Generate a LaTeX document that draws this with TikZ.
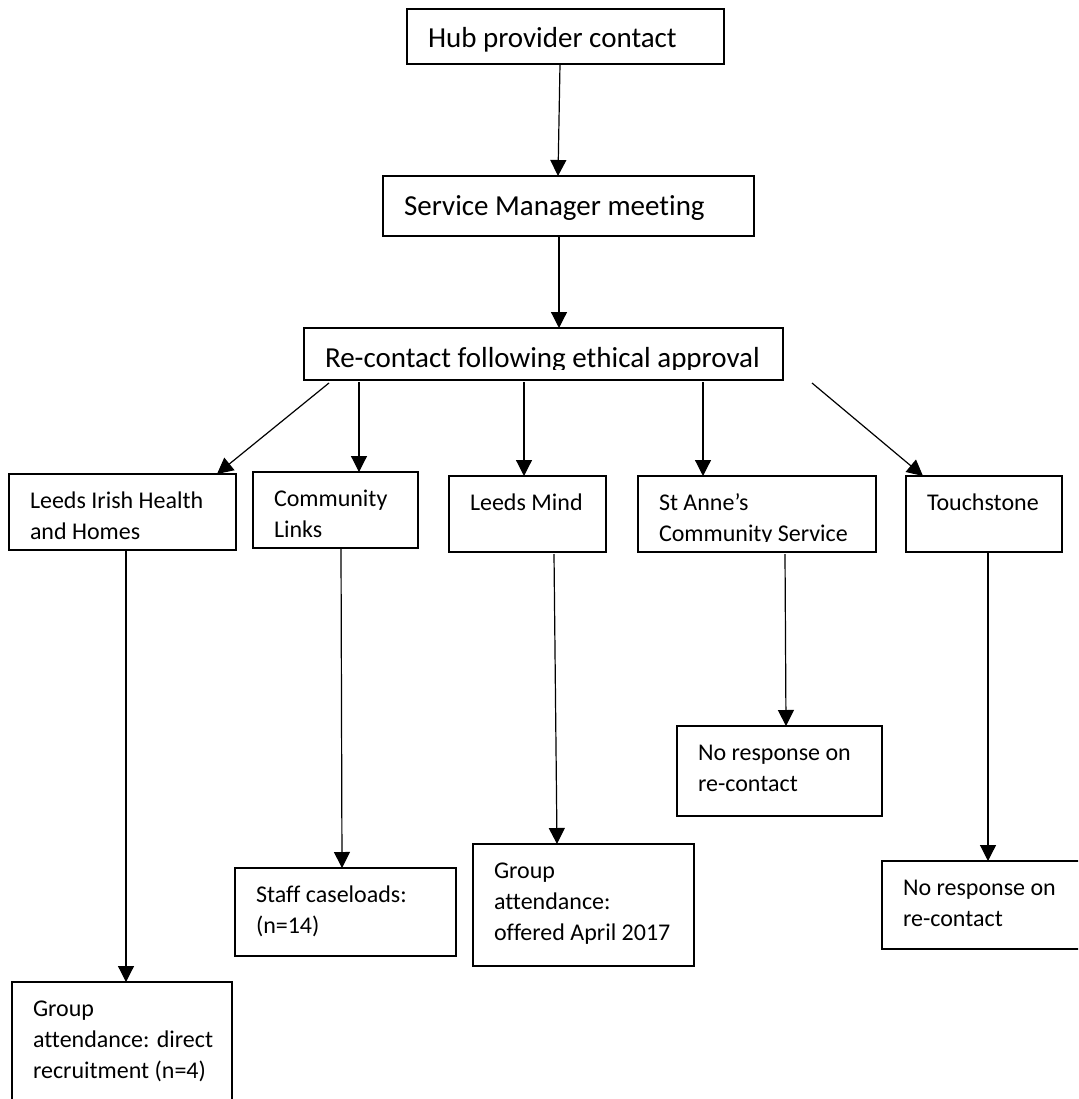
\documentclass[tikz,border=0pt]{standalone}
\usepackage{fontspec}
\setmainfont{Carlito}[Ligatures={NoCommon}]
\usetikzlibrary{arrows.meta}
\newcommand{\bigtxt}[3]{\parbox[t][#1][t]{#2}{\fontsize{29pt}{35pt}\selectfont\leftskip=21pt\rule{0pt}{39pt}#3}}
\newcommand{\smtxt}[3]{\parbox[t][#1][t]{#2}{\fontsize{24pt}{31pt}\selectfont\leftskip=21pt\rule{0pt}{34pt}#3}}
\begin{document}
\begin{tikzpicture}[x=1pt,y=-1pt,
  box/.style={draw=black, line width=1.2pt, inner sep=0pt, outer sep=0pt, anchor=north west},
  arr/.style={-{Triangle[length=16pt,width=16pt]}, line width=1.2pt},
  mask/.style={fill=white, draw=none}]
\useasboundingbox (0,0) rectangle (1078,1099);
\fill[white] (0,0) rectangle (1078,1099);
\clip (0,0) rectangle (1078,1099);

% top chain
\node[box, minimum width=317pt, minimum height=55pt] (hub) at (407,9) {\bigtxt{55pt}{317pt}{Hub provider contact}};
\node[box, minimum width=371pt, minimum height=60pt] (sm) at (383,176) {\bigtxt{60pt}{371pt}{Service Manager meeting}};
\node[box, minimum width=479pt, minimum height=52pt] (re) at (304,328) {\bigtxt{52pt}{479pt}{Re-contact following ethical approval}};
\fill[mask] ([xshift=1pt,yshift=0.8pt]re.south west) rectangle ([xshift=-1pt,yshift=10pt]re.south east);

% providers
\node[box, minimum width=227pt, minimum height=76pt] (lih) at (9,474) {\smtxt{76pt}{227pt}{Leeds Irish Health\\and Homes}};
\node[box, minimum width=165pt, minimum height=76pt] (cl) at (253,472) {\smtxt{76pt}{165pt}{Community\\Links}};
\node[box, minimum width=157pt, minimum height=76pt] (lm) at (449,476) {\smtxt{76pt}{157pt}{Leeds Mind}};
\node[box, minimum width=238pt, minimum height=76pt] (sa) at (638,476) {\smtxt{76pt}{238pt}{St Anne’s\\Community Service}};
\fill[mask] ([xshift=1pt,yshift=0.8pt]sa.south west) rectangle ([xshift=-1pt,yshift=10pt]sa.south east);
\node[box, minimum width=156pt, minimum height=76pt] (ts) at (906,476) {\smtxt{76pt}{156pt}{Touchstone}};

% outcomes
\node[box, minimum width=205pt, minimum height=90pt] (sar) at (677,726) {\smtxt{90pt}{205pt}{No response on\\re-contact}};
\node[box, minimum width=210pt, minimum height=88pt] (tsr) at (882,861) {\smtxt{88pt}{210pt}{No response on\\re-contact}};
\node[box, minimum width=221pt, minimum height=88pt] (staff) at (235,868) {\smtxt{88pt}{221pt}{Staff caseloads:\\(n=14)}};
\node[box, minimum width=221pt, minimum height=122pt] (lmr) at (473,844) {\smtxt{122pt}{221pt}{Group\\attendance:\\offered April 2017}};
\node[box, minimum width=220pt, minimum height=130pt] (lihr) at (12,982) {\smtxt{130pt}{220pt}{Group\\attendance: direct\\recruitment (n=4)}};

% connectors
\draw[arr] ([xshift=-5.5pt]hub.south) -- ([xshift=-10.5pt]sm.north);
\draw[arr] ([xshift=-9.5pt]sm.south) -- ([xshift=15.5pt]re.north);
\draw[arr] ([xshift=25pt,yshift=-3pt]re.south west) -- ([xshift=-19pt]lih.north east);
\draw[arr] ([xshift=55pt,yshift=-2pt]re.south west) -- ([xshift=106pt]cl.north west);
\draw[arr] ([xshift=220pt,yshift=-2pt]re.south west) -- ([xshift=75pt]lm.north west);
\draw[arr] ([xshift=399pt,yshift=-2pt]re.south west) -- ([xshift=65pt]sa.north west);
\draw[arr] ([xshift=508pt,yshift=-3pt]re.south west) -- ([xshift=17pt]ts.north west);
\draw[arr] ([xshift=117pt]lih.south west) -- ([xshift=114pt]lihr.north west);
\draw[arr] ([xshift=88pt]cl.south west) -- ([xshift=107pt]staff.north west);
\draw[arr] ([xshift=105pt,yshift=-2pt]lm.south west) -- ([xshift=84pt]lmr.north west);
\draw[arr] ([xshift=147pt,yshift=-2pt]sa.south west) -- ([xshift=109pt]sar.north west);
\draw[arr] ([xshift=82pt]ts.south west) -- ([xshift=106pt]tsr.north west);
\end{tikzpicture}
\end{document}
